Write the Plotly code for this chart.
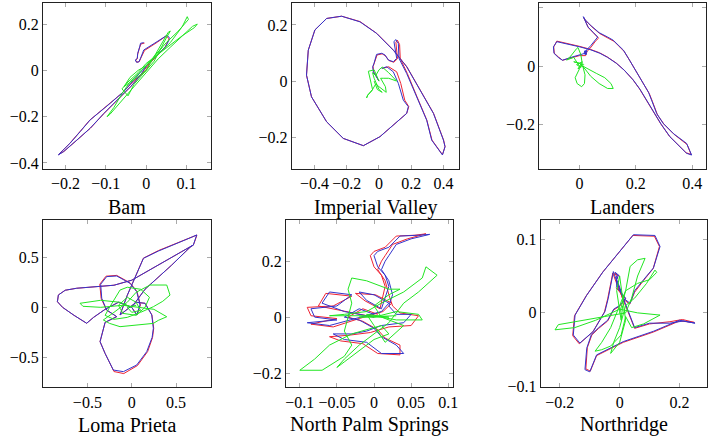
"""Six ground-motion orbit plots (red / blue / green traces per record)."""
import plotly.graph_objects as go

# ── data: (x, y) points ───────────────────────────────────────────────────────
BAM_RED = [(-0.004, 0.118), (-0.013, 0.114), (-0.016, 0.1), (-0.019, 0.086), (-0.021, 0.07),
           (-0.022, 0.05), (-0.026, 0.044), (-0.023, 0.035), (-0.017, 0.038), (-0.013, 0.054),
           (-0.004, 0.086), (0.028, 0.122), (0.05, 0.149), (0.057, 0.136), (0.047, 0.1),
           (0.02, 0.05), (0.009, 0.03), (0.0, 0.0), (-0.03, -0.044), (-0.057, -0.094),
           (-0.088, -0.14), (-0.114, -0.18), (-0.14, -0.215), (-0.165, -0.266), (-0.19, -0.316),
           (-0.217, -0.363), (-0.204, -0.35), (-0.171, -0.3), (-0.138, -0.249), (-0.104, -0.185),
           (-0.071, -0.127), (-0.038, -0.07), (-0.013, -0.019), (0.0, 0.01), (0.008, 0.03)]
BAM_BLUE = [(-0.006, 0.12), (-0.014, 0.117), (-0.016, 0.102), (-0.018, 0.088), (-0.021, 0.073),
            (-0.022, 0.052), (-0.027, 0.045), (-0.024, 0.035), (-0.018, 0.037), (-0.014, 0.052),
            (-0.006, 0.088), (0.027, 0.124), (0.052, 0.152), (0.059, 0.138), (0.048, 0.102),
            (0.019, 0.052), (0.002, 0.023), (-0.01, 0.001), (-0.031, -0.042), (-0.056, -0.092),
            (-0.089, -0.142), (-0.114, -0.178), (-0.139, -0.214), (-0.164, -0.265), (-0.189, -0.315),
            (-0.218, -0.365), (-0.205, -0.351), (-0.172, -0.301), (-0.139, -0.25), (-0.105, -0.186),
            (-0.072, -0.128), (-0.039, -0.071), (-0.014, -0.02), (-0.002, 0.009), (0.002, 0.023)]
BAM_GREEN = [(0.0, 0.02), (0.03, 0.07), (0.06, 0.12), (0.09, 0.19), (0.102, 0.232), (0.105, 0.22),
             (0.08, 0.17), (0.05, 0.12), (0.02, 0.06), (-0.01, 0.0), (-0.04, -0.05), (-0.06, -0.1),
             (-0.08, -0.16), (-0.097, -0.2), (-0.09, -0.19), (-0.06, -0.13), (-0.03, -0.07),
             (0.0, -0.01), (0.03, 0.05), (0.06, 0.1), (0.09, 0.15), (0.115, 0.19), (0.127, 0.2),
             (0.12, 0.185), (0.09, 0.15), (0.06, 0.11), (0.03, 0.07), (0.0, 0.03), (-0.02, -0.01),
             (-0.045, -0.05), (-0.06, -0.08), (-0.045, -0.11), (-0.03, -0.06), (-0.01, -0.02),
             (0.02, 0.04), (0.05, 0.14), (0.06, 0.17), (0.055, 0.165), (0.04, 0.12), (0.02, 0.06),
             (0.0, 0.0), (-0.03, -0.04), (-0.055, -0.07), (-0.04, -0.03), (-0.02, 0.0), (0.0, 0.02),
             (0.01, 0.04), (0.04, 0.1)]

IV_RED = [(0.0, 0.0), (-0.033, 0.033), (-0.037, 0.051), (-0.029, 0.063), (-0.012, 0.093),
          (0.02, 0.097), (0.04, 0.09), (0.062, 0.073), (0.092, 0.067), (0.115, 0.08),
          (0.105, 0.138), (0.114, 0.146), (0.128, 0.13), (0.132, 0.08), (0.176, 0.027),
          (0.236, -0.056), (0.297, -0.139), (0.329, -0.21), (0.394, -0.262), (0.41, -0.233),
          (0.401, -0.21), (0.339, -0.115), (0.256, -0.032), (0.173, 0.051), (0.09, 0.11),
          (-0.014, 0.17), (-0.118, 0.212), (-0.232, 0.231), (-0.325, 0.223), (-0.398, 0.182),
          (-0.439, 0.11), (-0.45, 0.021), (-0.419, -0.056), (-0.325, -0.145), (-0.222, -0.204),
          (-0.097, -0.23), (0.006, -0.198), (0.11, -0.145), (0.172, -0.115), (0.185, -0.091),
          (0.16, -0.068), (0.135, -0.008), (0.11, 0.033), (0.06, 0.051), (0.02, 0.045)]
IV_BLUE = [(0.0, 0.0), (-0.035, 0.033), (-0.039, 0.051), (-0.031, 0.063), (-0.015, 0.095),
           (0.017, 0.099), (0.037, 0.093), (0.058, 0.075), (0.089, 0.069), (0.11, 0.081),
           (0.093, 0.14), (0.104, 0.148), (0.12, 0.134), (0.124, 0.081), (0.172, 0.027),
           (0.234, -0.056), (0.296, -0.139), (0.327, -0.21), (0.394, -0.263), (0.41, -0.234),
           (0.4, -0.21), (0.338, -0.115), (0.255, -0.032), (0.172, 0.051), (0.089, 0.11),
           (-0.015, 0.17), (-0.118, 0.211), (-0.232, 0.231), (-0.325, 0.223), (-0.398, 0.182),
           (-0.439, 0.11), (-0.45, 0.021), (-0.419, -0.056), (-0.325, -0.145), (-0.222, -0.204),
           (-0.097, -0.23), (0.006, -0.198), (0.11, -0.145), (0.172, -0.115), (0.182, -0.091),
           (0.151, -0.068), (0.12, -0.008), (0.089, 0.033), (0.048, 0.051), (0.017, 0.045)]
IV_GREEN = [(0.0, 0.0), (-0.03, 0.04), (-0.066, 0.035), (-0.05, 0.0), (-0.04, -0.03), (-0.07, -0.05),
            (-0.077, -0.06), (-0.07, -0.05), (-0.045, -0.035), (-0.02, -0.01), (0.0, -0.02),
            (0.02, -0.03), (0.045, -0.04), (0.04, -0.02), (0.01, 0.01), (0.03, 0.01), (0.06, 0.01),
            (0.11, 0.0), (0.06, 0.03), (0.02, 0.05), (0.0, 0.04), (-0.02, 0.02), (-0.04, 0.03),
            (-0.03, 0.01), (0.0, -0.03), (0.02, -0.04), (-0.01, -0.03), (-0.03, 0.0)]

LA_RED = [(0.022, 0.036), (0.027, 0.05), (0.042, 0.066), (0.057, 0.086), (0.068, 0.096),
          (0.053, 0.112), (0.032, 0.132), (0.016, 0.166), (0.022, 0.157), (0.042, 0.137),
          (0.072, 0.112), (0.102, 0.096), (0.123, 0.085), (0.143, 0.066), (0.159, 0.05),
          (0.178, 0.02), (0.194, -0.007), (0.213, -0.035), (0.23, -0.065), (0.248, -0.095),
          (0.259, -0.122), (0.268, -0.145), (0.277, -0.168), (0.3, -0.2), (0.336, -0.235),
          (0.382, -0.27), (0.396, -0.304), (0.378, -0.298), (0.319, -0.241), (0.288, -0.198),
          (0.272, -0.172), (0.253, -0.143), (0.236, -0.115), (0.213, -0.078), (0.189, -0.046),
          (0.158, -0.013), (0.13, 0.011), (0.098, 0.032), (0.071, 0.046), (0.038, 0.058),
          (0.0, 0.068), (-0.04, 0.077), (-0.08, 0.086), (-0.091, 0.066), (-0.089, 0.044),
          (-0.074, 0.031), (-0.06, 0.02), (-0.03, 0.028), (0.0, 0.036), (0.022, 0.036)]
LA_BLUE = [(0.02, 0.044), (0.025, 0.055), (0.04, 0.07), (0.055, 0.09), (0.065, 0.1), (0.05, 0.115),
           (0.03, 0.135), (0.014, 0.17), (0.02, 0.16), (0.04, 0.14), (0.07, 0.115), (0.1, 0.1),
           (0.12, 0.089), (0.14, 0.07), (0.156, 0.055), (0.175, 0.025), (0.191, -0.002),
           (0.21, -0.03), (0.227, -0.06), (0.245, -0.09), (0.256, -0.117), (0.265, -0.14),
           (0.274, -0.163), (0.297, -0.197), (0.333, -0.232), (0.38, -0.266), (0.398, -0.306),
           (0.38, -0.3), (0.321, -0.243), (0.29, -0.2), (0.274, -0.174), (0.255, -0.145),
           (0.238, -0.117), (0.215, -0.08), (0.191, -0.048), (0.16, -0.015), (0.132, 0.009),
           (0.1, 0.03), (0.073, 0.044), (0.04, 0.056), (0.002, 0.066), (-0.04, 0.075),
           (-0.08, 0.084), (-0.092, 0.066), (-0.09, 0.044), (-0.075, 0.03), (-0.06, 0.02),
           (-0.03, 0.03), (0.0, 0.04), (0.02, 0.044), (0.028, 0.05), (0.018, 0.052), (0.022, 0.04),
           (0.027, 0.042), (0.017, 0.047), (0.024, 0.054), (0.02, 0.038)]
LA_GREEN = [(0.0, 0.0), (-0.02, 0.03), (-0.045, 0.021), (-0.03, 0.035), (-0.01, 0.06),
            (-0.005, 0.064), (0.005, 0.04), (0.01, 0.01), (0.0, -0.01), (-0.015, -0.04),
            (-0.008, -0.06), (0.008, -0.071), (0.018, -0.06), (0.02, -0.03), (0.012, 0.0),
            (0.03, -0.01), (0.06, -0.025), (0.09, -0.04), (0.112, -0.06), (0.12, -0.077),
            (0.1, -0.077), (0.07, -0.06), (0.04, -0.035), (0.02, -0.01), (0.0, 0.01),
            (-0.02, 0.015), (0.015, 0.005), (0.005, -0.005), (-0.01, 0.005), (0.01, 0.015),
            (-0.005, -0.01), (0.012, 0.008)]

LP_RED = [(0.0, 0.0), (0.06, -0.076), (0.098, 0.023), (0.06, 0.156), (-0.016, 0.242),
          (-0.169, 0.318), (-0.29, 0.31), (-0.36, 0.23), (-0.345, 0.09), (-0.285, -0.027),
          (-0.169, -0.093), (-0.3, -0.15), (-0.357, -0.342), (-0.3, -0.46), (-0.2, -0.64),
          (-0.09, -0.66), (0.065, -0.58), (0.18, -0.44), (0.235, -0.3), (0.248, -0.209),
          (0.228, -0.076), (0.15, 0.04), (0.05, 0.05), (-0.132, -0.076), (-0.05, 0.12),
          (0.05, 0.32), (0.132, 0.49), (0.3, 0.565), (0.5, 0.635), (0.68, 0.705), (0.735, 0.72),
          (0.72, 0.68), (0.695, 0.62), (0.564, 0.555), (0.3, 0.42), (0.0, 0.27), (-0.2, 0.22),
          (-0.357, 0.206), (-0.5, 0.2), (-0.62, 0.19), (-0.75, 0.17), (-0.827, 0.123),
          (-0.838, 0.056), (-0.78, 0.0), (-0.65, -0.08), (-0.508, -0.159), (-0.43, -0.1),
          (-0.3, -0.02), (-0.15, 0.05), (0.0, 0.0), (0.15, 0.18), (0.45, 0.42), (0.66, 0.6),
          (0.695, 0.62)]
LP_BLUE = [(0.0, 0.0), (0.056, -0.076), (0.094, 0.023), (0.056, 0.156), (-0.019, 0.239),
           (-0.169, 0.312), (-0.282, 0.306), (-0.35, 0.23), (-0.338, 0.09), (-0.282, -0.027),
           (-0.169, -0.093), (-0.3, -0.15), (-0.357, -0.342), (-0.3, -0.46), (-0.207, -0.625),
           (-0.094, -0.641), (0.056, -0.575), (0.169, -0.442), (0.23, -0.3), (0.244, -0.209),
           (0.226, -0.076), (0.15, 0.04), (0.05, 0.05), (-0.132, -0.076), (-0.05, 0.12),
           (0.05, 0.32), (0.132, 0.488), (0.3, 0.56), (0.5, 0.63), (0.68, 0.7), (0.733, 0.721),
           (0.72, 0.68), (0.695, 0.621), (0.564, 0.555), (0.3, 0.42), (0.0, 0.27), (-0.2, 0.22),
           (-0.357, 0.206), (-0.5, 0.2), (-0.62, 0.19), (-0.75, 0.17), (-0.827, 0.123),
           (-0.838, 0.056), (-0.78, 0.0), (-0.65, -0.08), (-0.508, -0.159), (-0.43, -0.1),
           (-0.3, -0.02), (-0.15, 0.05), (0.0, 0.0), (0.15, 0.18), (0.45, 0.42), (0.66, 0.6),
           (0.695, 0.621)]
LP_GREEN = [(0.0, 0.0), (-0.13, 0.05), (-0.35, 0.07), (-0.583, 0.04), (-0.55, 0.01), (-0.35, 0.0),
            (-0.1, 0.02), (0.1, 0.0), (0.25, -0.02), (0.395, -0.094), (0.3, -0.13), (0.244, -0.16),
            (0.05, -0.18), (-0.132, -0.193), (-0.25, -0.16), (-0.32, -0.126), (-0.2, -0.05),
            (-0.05, 0.05), (0.05, 0.15), (0.207, 0.222), (0.395, 0.222), (0.432, 0.122),
            (0.35, 0.06), (0.244, 0.006), (0.1, -0.05), (-0.05, -0.1), (-0.2, -0.12), (-0.3, -0.08),
            (-0.25, 0.0), (-0.132, 0.172), (-0.05, 0.2), (0.1, 0.18), (0.2, 0.1), (0.15, 0.0),
            (0.05, -0.08), (-0.1, -0.06), (-0.15, 0.02), (-0.05, 0.1), (0.05, 0.05), (0.1, -0.03),
            (0.0, -0.05), (-0.05, 0.0), (0.05, 0.02)]

NPS_RED = [(0.0, 0.0), (-0.045, 0.025), (-0.075, 0.04), (-0.065, 0.085), (-0.03, 0.075),
           (-0.055, 0.04), (-0.09, 0.035), (-0.085, 0.005), (-0.05, -0.005), (-0.085, -0.025),
           (-0.055, -0.035), (-0.02, -0.005), (0.012, 0.02), (0.024, 0.05), (0.002, 0.08),
           (-0.025, 0.085), (-0.012, 0.058), (0.008, 0.03), (0.012, 0.07), (0.015, 0.11),
           (0.01, 0.15), (0.0, 0.18), (-0.005, 0.22), (0.0, 0.235), (0.015, 0.25), (0.03, 0.29),
           (0.055, 0.293), (0.07, 0.298), (0.045, 0.28), (0.025, 0.26), (0.015, 0.22),
           (0.01, 0.2), (0.005, 0.17), (0.015, 0.13), (0.02, 0.08), (0.025, 0.04), (0.035, 0.015),
           (0.06, 0.005), (0.05, -0.03), (0.02, -0.035), (-0.005, -0.055), (-0.035, -0.065),
           (-0.06, -0.07), (-0.045, -0.085), (-0.015, -0.095), (0.005, -0.13), (0.035, -0.135),
           (0.035, -0.1), (0.015, -0.075), (0.005, -0.045), (-0.015, -0.015), (-0.035, 0.0),
           (-0.015, 0.03), (0.005, 0.01)]
NPS_BLUE = [(0.0, 0.0), (-0.04, 0.02), (-0.07, 0.05), (-0.06, 0.09), (-0.03, 0.08), (-0.05, 0.04),
            (-0.085, 0.03), (-0.08, 0.0), (-0.05, -0.01), (-0.09, -0.02), (-0.06, -0.03),
            (-0.02, 0.0), (0.01, 0.02), (0.02, 0.05), (0.0, 0.08), (-0.02, 0.09), (-0.01, 0.06),
            (0.01, 0.03), (0.015, 0.07), (0.02, 0.11), (0.015, 0.15), (0.005, 0.18), (0.0, 0.22),
            (0.005, 0.235), (0.02, 0.25), (0.035, 0.29), (0.06, 0.293), (0.075, 0.296),
            (0.05, 0.28), (0.03, 0.26), (0.02, 0.22), (0.015, 0.2), (0.01, 0.17), (0.02, 0.13),
            (0.025, 0.08), (0.02, 0.04), (0.03, 0.01), (0.05, 0.01), (0.04, -0.02), (0.01, -0.03),
            (-0.01, -0.05), (-0.03, -0.06), (-0.055, -0.06), (-0.04, -0.08), (-0.01, -0.09),
            (0.01, -0.13), (0.04, -0.13), (0.03, -0.1), (0.01, -0.07), (0.0, -0.04),
            (-0.02, -0.01), (-0.04, 0.0), (-0.02, 0.03), (0.0, 0.01)]
NPS_GREEN = [(0.0, 0.0), (0.03, 0.02), (0.06, 0.01), (0.065, -0.01), (0.03, -0.01), (0.0, 0.005),
             (-0.03, 0.005), (-0.06, 0.005), (-0.04, 0.01), (-0.01, 0.02), (0.01, 0.05),
             (0.04, 0.09), (0.065, 0.14), (0.07, 0.18), (0.085, 0.15), (0.06, 0.09), (0.04, 0.05),
             (0.02, -0.02), (0.0, -0.06), (-0.02, -0.1), (-0.04, -0.15), (-0.05, -0.18),
             (-0.04, -0.16), (-0.02, -0.12), (0.0, -0.08), (0.02, -0.06), (0.01, -0.03),
             (-0.03, -0.06), (-0.06, -0.1), (-0.08, -0.15), (-0.1, -0.19), (-0.07, -0.19),
             (-0.04, -0.14), (-0.03, -0.1), (-0.04, -0.05), (-0.035, 0.0), (-0.03, 0.05),
             (-0.035, 0.1), (-0.03, 0.14), (-0.01, 0.13), (0.02, 0.1), (0.035, 0.1), (0.02, 0.08),
             (0.0, 0.04), (0.01, 0.0), (0.04, -0.03), (0.02, -0.08), (0.015, -0.09), (0.0, -0.03),
             (-0.01, 0.01), (0.02, 0.0), (-0.02, 0.0), (0.03, 0.005)]

NR_RED = [(-0.002, 0.05), (-0.017, 0.054), (-0.007, 0.048), (-0.012, 0.044), (-0.002, 0.034),
          (0.01, 0.019), (0.034, 0.012), (0.05, 0.028), (0.08, 0.044), (0.112, 0.06),
          (0.133, 0.09), (0.116, 0.104), (0.044, 0.105), (-0.012, 0.078), (-0.057, 0.055),
          (-0.112, 0.023), (-0.151, -0.004), (-0.157, -0.031), (-0.135, -0.042), (-0.09, -0.026),
          (-0.051, 0.001), (-0.04, 0.019), (-0.023, 0.054), (-0.012, 0.042), (0.01, 0.019),
          (0.03, -0.001), (0.05, -0.021), (0.1, -0.015), (0.168, -0.012), (0.21, -0.009),
          (0.25, -0.013), (0.2, -0.011), (0.113, -0.026), (0.012, -0.04), (-0.077, -0.058),
          (-0.098, -0.079), (-0.113, -0.076), (-0.108, -0.047), (-0.093, -0.03), (-0.07, -0.021),
          (-0.04, -0.011), (-0.02, 0.004), (0.0, 0.009), (0.02, 0.019), (-0.012, 0.034)]
NR_BLUE = [(0.0, 0.05), (-0.015, 0.055), (-0.005, 0.05), (-0.01, 0.045), (0.0, 0.035),
           (0.012, 0.02), (0.035, 0.013), (0.05, 0.03), (0.08, 0.045), (0.113, 0.061),
           (0.135, 0.09), (0.118, 0.105), (0.046, 0.106), (-0.01, 0.079), (-0.055, 0.056),
           (-0.11, 0.024), (-0.149, -0.003), (-0.155, -0.03), (-0.133, -0.041), (-0.088, -0.025),
           (-0.049, 0.002), (-0.038, 0.02), (-0.021, 0.056), (-0.01, 0.043), (0.012, 0.02),
           (0.03, 0.0), (0.05, -0.02), (0.1, -0.014), (0.168, -0.014), (0.213, -0.011),
           (0.252, -0.014), (0.2, -0.01), (0.113, -0.025), (0.012, -0.039), (-0.077, -0.057),
           (-0.1, -0.08), (-0.116, -0.077), (-0.11, -0.048), (-0.095, -0.03), (-0.07, -0.02),
           (-0.04, -0.01), (-0.02, 0.005), (0.0, 0.01), (0.02, 0.02), (-0.01, 0.035),
           (-0.01, 0.05)]
NR_GREEN = [(0.0, 0.0), (0.02, 0.03), (0.035, 0.063), (0.06, 0.072), (0.085, 0.074), (0.06, 0.05),
            (0.04, 0.02), (0.02, 0.0), (-0.05, -0.005), (-0.12, -0.01), (-0.205, -0.016),
            (-0.216, -0.023), (-0.15, -0.02), (-0.08, -0.01), (0.0, 0.005), (0.06, 0.0),
            (0.135, -0.003), (0.08, -0.015), (0.04, -0.02), (0.02, -0.005), (0.005, -0.03),
            (-0.03, -0.045), (-0.06, -0.05), (-0.082, -0.052), (-0.06, -0.04), (-0.03, -0.02),
            (-0.01, 0.0), (0.02, 0.03), (0.06, 0.04), (0.1, 0.045), (0.124, 0.055),
            (0.118, 0.058), (0.09, 0.04), (0.05, 0.02), (0.02, 0.01), (0.0, -0.02),
            (-0.02, -0.04), (-0.03, -0.055), (0.0, -0.04), (0.02, -0.01), (0.01, 0.02),
            (0.0, 0.05), (-0.01, 0.03), (0.005, -0.01), (0.01, 0.01)]

TITLES = ['Bam', 'Imperial Valley', 'Landers', 'Loma Prieta', 'North Palm Springs', 'Northridge']
SERIES = [
    (BAM_RED, BAM_BLUE, BAM_GREEN),
    (IV_RED, IV_BLUE, IV_GREEN),
    (LA_RED, LA_BLUE, LA_GREEN),
    (LP_RED, LP_BLUE, LP_GREEN),
    (NPS_RED, NPS_BLUE, NPS_GREEN),
    (NR_RED, NR_BLUE, NR_GREEN),
]
X_TICKS = [[-0.2, -0.1, 0, 0.1], [-0.4, -0.2, 0, 0.2, 0.4], [0, 0.2, 0.4],
           [-0.5, 0, 0.5], [-0.1, -0.05, 0, 0.05, 0.1], [-0.2, 0, 0.2]]
X_LABELS = [['−0.2', '−0.1', '0', '0.1'], ['−0.4', '−0.2', '0', '0.2', '0.4'], ['0', '0.2', '0.4'],
            ['−0.5', '0', '0.5'], ['−0.1', '−0.05', '0', '0.05', '0.1'], ['−0.2', '0', '0.2']]
Y_TICKS = [[-0.4, -0.2, 0, 0.2], [-0.2, 0, 0.2], [-0.2, 0, 0.2],
           [-0.5, 0, 0.5], [-0.2, 0, 0.2], [-0.1, 0, 0.1]]
Y_LABELS = [['−0.4', '−0.2', '0', '0.2'], ['−0.2', '0', '0.2'], ['−0.2', '0', '0.2'],
            ['−0.5', '0', '0.5'], ['−0.2', '0', '0.2'], ['−0.1', '0', '0.1']]

# ── layout (paper fractions / axis ranges) ───────────────────────────────────
X_DOMAINS = [[0.0607, 0.2976], [0.4114, 0.647], [0.7607, 0.9958],
             [0.0607, 0.2976], [0.4034, 0.639], [0.7626, 0.9976]]
Y_DOMAINS = [[0.6133, 0.9931]] * 3 + [[0.1137, 0.4966]] * 3
X_RANGES = [[-0.256, 0.161], [-0.542, 0.495], [-0.142, 0.449],
            [-1.0, 0.894], [-0.1186, 0.1065], [-0.264, 0.293]]
Y_RANGES = [[-0.426, 0.291], [-0.313, 0.278], [-0.354, 0.217],
            [-0.797, 0.87], [-0.251, 0.3475], [-0.101, 0.126]]
TITLE_Y = [0.526] * 3 + [0.0275] * 3

COLORS = ['#ee2233', '#3333cc', '#22e622']
FONT = 'Liberation Serif'

fig = go.Figure()
for i, series in enumerate(SERIES):
    n = i + 1
    for pts, col in zip(series, COLORS):
        fig.add_trace(go.Scatter(
            x=[p[0] for p in pts], y=[p[1] for p in pts], mode='lines',
            line=dict(color=col, width=1), xaxis=f'x{n}', yaxis=f'y{n}',
            showlegend=False, hoverinfo='skip'))

    axis_common = dict(showline=True, linecolor='#222222', linewidth=1, mirror='allticks',
                       ticks='inside', ticklen=4, tickcolor='#aaaaaa', tickwidth=1,
                       showgrid=False, zeroline=False, automargin=False,
                       tickfont=dict(family=FONT, size=16, color='black'))
    fig.update_layout(**{
        f'xaxis{n}': dict(domain=X_DOMAINS[i], range=X_RANGES[i], anchor=f'y{n}',
                          tickvals=X_TICKS[i], ticktext=X_LABELS[i], **axis_common),
        f'yaxis{n}': dict(domain=Y_DOMAINS[i], range=Y_RANGES[i], anchor=f'x{n}',
                          tickvals=Y_TICKS[i], ticktext=Y_LABELS[i], **axis_common),
    })
    fig.add_annotation(text=TITLES[i], x=sum(X_DOMAINS[i]) / 2, y=TITLE_Y[i],
                       xref='paper', yref='paper', showarrow=False,
                       xanchor='center', yanchor='middle',
                       font=dict(family=FONT, size=20, color='black'))

fig.update_layout(width=709, height=437, margin=dict(l=0, r=0, t=0, b=0),
                  paper_bgcolor='white', plot_bgcolor='white')
# the page's default body margin would shift the figure; drop it
fig.write_html('out.html', config={'displayModeBar': False},
               post_script="document.body.style.margin = '0';")
